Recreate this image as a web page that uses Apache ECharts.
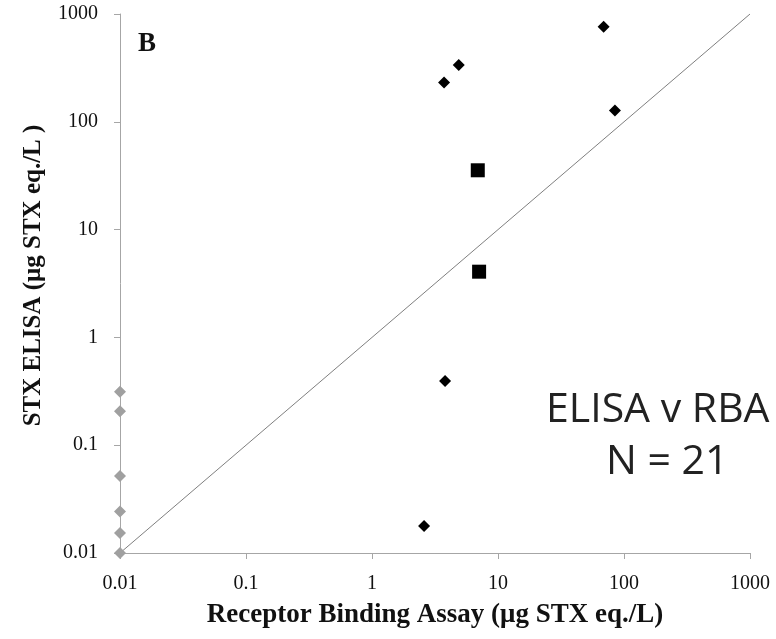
<!DOCTYPE html>
<html><head><meta charset="utf-8">
<script src="https://cdn.jsdelivr.net/npm/echarts@6/dist/echarts.min.js"></script>
<style>html,body{margin:0;padding:0;background:#fff}#c{width:776px;height:639px}</style>
</head><body><div id="c"></div>
<script>
// Data
const belowDetection = [[0.01,0.313],[0.01,0.206],[0.01,0.0518],[0.01,0.0242],[0.01,0.0153],[0.01,0.01]];
const samples = [[68.9,762],[4.88,336],[3.73,232],[84.7,127],[3.80,0.394],[2.59,0.0178]];
const squares = [[6.91,35.5],[7.08,4.07]];
const identityLine = [[0.01,0.01],[1000,1000]];
const axisMin = 0.01, axisMax = 1000;

const serif = '"Liberation Serif", "DejaVu Serif", serif';
const axisCol = '#a6a6a6';
const fmt = v => String(parseFloat(Number(v).toPrecision(3)));
const chart = echarts.init(document.getElementById('c'));
chart.setOption({
  animation: false,
  grid: {left: 120, right: 26, top: 14, bottom: 86, containLabel: false},
  xAxis: {
    type: 'log', logBase: 10, min: axisMin, max: axisMax,
    name: 'Receptor Binding Assay (μg STX eq./L)', nameLocation: 'middle', nameGap: 49,
    nameTextStyle: {fontFamily: serif, fontWeight: 'bold', fontSize: 27, color: '#111'},
    axisLine: {show: true, lineStyle: {color: axisCol, width: 1}},
    axisTick: {show: true, inside: false, length: 6, lineStyle: {color: axisCol}},
    axisLabel: {fontFamily: serif, fontSize: 20, color: '#111', margin: 21, formatter: fmt},
    splitLine: {show: false}, minorTick: {show: false}
  },
  yAxis: {
    type: 'log', logBase: 10, min: axisMin, max: axisMax,
    name: 'STX ELISA (μg STX eq./L )', nameLocation: 'middle', nameGap: 74,
    nameTextStyle: {fontFamily: serif, fontWeight: 'bold', fontSize: 25, color: '#111', padding: [0, 0, 0, 16]},
    axisLine: {show: true, lineStyle: {color: axisCol, width: 1}},
    axisTick: {show: true, inside: false, length: 6, lineStyle: {color: axisCol}},
    axisLabel: {fontFamily: serif, fontSize: 20, color: '#111', margin: 22, formatter: fmt},
    splitLine: {show: false}
  },
  graphic: [
    {type: 'text', left: 138, top: 31, style: {text: 'B', font: 'bold 27px ' + serif, fill: '#111'}},
    {type: 'text', left: 546, top: 390, style: {text: 'ELISA v RBA', font: '41px "Open Sans", sans-serif', fill: '#222'}},
    {type: 'text', left: 606, top: 442, style: {text: 'N = 21', font: '41px "Open Sans", sans-serif', fill: '#222'}}
  ],
  series: [
    {type: 'line', data: identityLine, symbol: 'none', lineStyle: {color: '#7f7f7f', width: 1}, z: 1, silent: true},
    {type: 'scatter', data: belowDetection, symbol: 'diamond', symbolSize: 12, itemStyle: {color: '#a0a0a0', opacity: 1}, clip: false, z: 3},
    {type: 'scatter', data: samples, symbol: 'diamond', symbolSize: 12, itemStyle: {color: '#000', opacity: 1}, clip: false, z: 4},
    {type: 'scatter', data: squares, symbol: 'rect', symbolSize: 14, itemStyle: {color: '#000', opacity: 1}, clip: false, z: 4}
  ]
});
</script></body></html>
